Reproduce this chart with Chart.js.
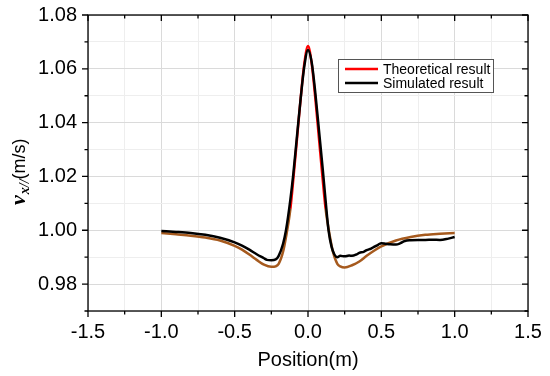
<!DOCTYPE html>
<html lang="en">
<head>
<meta charset="UTF-8" />
<title>Velocity profile</title>
<style>
  html, body { margin: 0; padding: 0; background: #fff; }
  #wrap { position: relative; width: 550px; height: 376px; }
</style>
</head>
<body>
<div id="wrap"><canvas id="chart" width="550" height="376"></canvas></div>
<script src="https://cdn.jsdelivr.net/npm/chart.js"></script>
<script>
// theoretical curve
const theoX = [-1.0, -0.9, -0.8, -0.7, -0.6, -0.5, -0.45, -0.4, -0.35, -0.3, -0.25, -0.22, -0.2, -0.17, -0.15, -0.12, -0.1, -0.075, -0.05, -0.025,
  0, 0.025, 0.05, 0.075, 0.1, 0.12, 0.15, 0.17, 0.2, 0.22, 0.25, 0.3, 0.35, 0.4, 0.45, 0.5, 0.6, 0.7, 0.8, 0.9, 1.0];
const theoY = [0.9990, 0.9985, 0.9980, 0.9973, 0.9962, 0.9942, 0.9928, 0.9910, 0.9890, 0.9872, 0.9864, 0.9866, 0.9875, 0.9920, 0.9975, 1.0080, 1.0190, 1.0340, 1.0490, 1.0620,
  1.0685, 1.0620, 1.0490, 1.0340, 1.0190, 1.0080, 0.9975, 0.9920, 0.9875, 0.9866, 0.9862, 0.9870, 0.9884, 0.9905, 0.9924, 0.9940, 0.9962, 0.9975, 0.9983, 0.9987, 0.9990];

// simulated curve
const simX = [-1.0, -0.9, -0.8, -0.7, -0.6, -0.5, -0.45, -0.4, -0.35, -0.3, -0.28, -0.25, -0.22, -0.2, -0.17, -0.15, -0.12, -0.1, -0.075, -0.05, -0.025,
  0, 0.025, 0.05, 0.075, 0.1, 0.12, 0.14, 0.16, 0.18, 0.2, 0.22, 0.25, 0.28, 0.3, 0.33, 0.35, 0.38, 0.4, 0.43, 0.45, 0.48,
  0.5, 0.53, 0.56, 0.6, 0.63, 0.66, 0.7, 0.75, 0.8, 0.85, 0.9, 0.95, 1.0];
const simY = [0.9997, 0.9994, 0.9990, 0.9983, 0.9972, 0.9955, 0.9943, 0.9928, 0.9911, 0.9896, 0.9890, 0.9889, 0.9892, 0.9905, 0.9950, 1.0000, 1.0115, 1.0210, 1.0350, 1.0490, 1.0610,
  1.0670, 1.0625, 1.0510, 1.0370, 1.0230, 1.0110, 1.0000, 0.9940, 0.9910, 0.9900, 0.9905, 0.9903, 0.9906, 0.9905, 0.9910, 0.9916, 0.9920, 0.9926, 0.9932, 0.9938, 0.9947,
  0.9952, 0.9950, 0.9948, 0.9947, 0.9952, 0.9960, 0.9963, 0.9964, 0.9964, 0.9965, 0.9964, 0.9968, 0.9975];

const seriesNames = ['Theoretical result', 'Simulated result'];
const xTitle = 'Position(m)';

const toPoints = (xs, ys) => xs.map((x, i) => ({ x: x, y: ys[i] }));

const isMajorX = v => Math.abs(v * 2 - Math.round(v * 2)) < 1e-6;
const isMajorY = v => Math.round(v * 100) % 2 === 0;

// frame, tick marks, legend and y title
const decorations = {
  id: 'decorations',
  afterDraw(chart) {
    const { ctx, chartArea: a, scales: { x, y } } = chart;
    ctx.save();
    ctx.strokeStyle = '#000';
    ctx.lineWidth = 1.3;
    ctx.strokeRect(a.left, a.top, a.right - a.left, a.bottom - a.top);
    ctx.beginPath();
    x.ticks.forEach(t => {
      const px = x.getPixelForValue(t.value);
      const len = isMajorX(t.value) ? 6 : 3.5;
      ctx.moveTo(px, a.bottom); ctx.lineTo(px, a.bottom + len);
      ctx.moveTo(px, a.top); ctx.lineTo(px, a.top + len);
    });
    y.ticks.forEach(t => {
      const py = y.getPixelForValue(t.value);
      const len = isMajorY(t.value) ? 6 : 3.5;
      ctx.moveTo(a.left, py); ctx.lineTo(a.left - len, py);
      ctx.moveTo(a.right, py); ctx.lineTo(a.right - len, py);
    });
    ctx.stroke();

    // legend box
    const bx = 338, by = 59, bw = 155, bh = 33;
    ctx.fillStyle = '#fff';
    ctx.fillRect(bx, by, bw, bh);
    ctx.strokeStyle = '#555';
    ctx.lineWidth = 1;
    ctx.strokeRect(bx + 0.5, by + 0.5, bw, bh);
    const colors = ['#ff0000', '#000000'];
    ctx.font = '14px "Liberation Sans", Arial, sans-serif';
    ctx.textBaseline = 'middle';
    seriesNames.forEach((name, i) => {
      const ly = by + 10 + i * 14;
      ctx.strokeStyle = colors[i];
      ctx.lineWidth = 2.5;
      ctx.beginPath(); ctx.moveTo(bx + 7, ly); ctx.lineTo(bx + 40, ly); ctx.stroke();
      ctx.fillStyle = '#000';
      ctx.fillText(name, bx + 45, ly + 1);
    });

    // y axis title: v_{x//}(m/s)
    ctx.translate(25, 205);
    ctx.rotate(-Math.PI / 2);
    ctx.textBaseline = 'alphabetic';
    ctx.fillStyle = '#000';
    ctx.font = 'bold italic 22px "Liberation Serif", serif';
    ctx.fillText('v', 0, 0);
    let w = ctx.measureText('v').width + 1;
    ctx.font = 'bold italic 14px "Liberation Serif", serif';
    ctx.fillText('x//', w, 4);
    w += ctx.measureText('x//').width;
    ctx.font = '18px "Liberation Sans", Arial, sans-serif';
    ctx.fillText('(m/s)', w, 0);
    ctx.restore();
  }
};

new Chart(document.getElementById('chart'), {
  type: 'line',
  data: {
    datasets: [
      {
        label: seriesNames[0],
        data: toPoints(theoX, theoY),
        borderColor: '#ff0000',
        borderWidth: 2.5,
        pointRadius: 0,
        cubicInterpolationMode: 'monotone',
        order: 1,
        segment: {
          borderColor: c => (c.p0.parsed.y < 1.015 && c.p1.parsed.y < 1.015) ? '#a65a1e' : '#ff0000'
        }
      },
      {
        label: seriesNames[1],
        data: toPoints(simX, simY),
        borderColor: '#000000',
        borderWidth: 2.5,
        pointRadius: 0,
        cubicInterpolationMode: 'monotone',
        order: 0
      }
    ]
  },
  options: {
    responsive: false,
    animation: false,
    layout: { padding: { left: 0, right: 22, top: 15, bottom: 0 } },
    plugins: { legend: { display: false }, tooltip: { enabled: false } },
    scales: {
      x: {
        type: 'linear',
        min: -1.5, max: 1.5,
        afterFit: s => { s.height = 65; s.paddingLeft = 0; s.paddingRight = 0; },
        border: { display: false },
        grid: {
          drawTicks: false,
          color: c => isMajorX(c.tick.value) ? '#dadada' : '#eeeeee'
        },
        ticks: {
          stepSize: 0.25,
          padding: 9,
          color: '#000',
          maxRotation: 0,
          autoSkip: false,
          font: { family: '"Liberation Sans", Arial, sans-serif', size: 20 },
          callback: v => isMajorX(v) ? v.toFixed(1) : ''
        },
        title: {
          display: true,
          text: xTitle,
          color: '#000',
          padding: { top: 2 },
          font: { family: '"Liberation Sans", Arial, sans-serif', size: 20 }
        }
      },
      y: {
        min: 0.97, max: 1.08,
        afterFit: s => { s.width = 88; s.paddingTop = 0; s.paddingBottom = 0; },
        border: { display: false },
        grid: {
          drawTicks: false,
          color: c => isMajorY(c.tick.value) ? '#dadada' : '#eeeeee'
        },
        ticks: {
          stepSize: 0.01,
          padding: 11,
          color: '#000',
          autoSkip: false,
          font: { family: '"Liberation Sans", Arial, sans-serif', size: 20 },
          callback: v => isMajorY(v) ? v.toFixed(2) : ''
        }
      }
    }
  },
  plugins: [decorations]
});
</script>
</body>
</html>
